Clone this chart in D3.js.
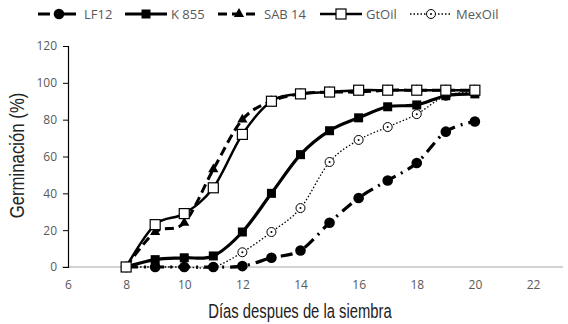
<!DOCTYPE html>
<html>
<head>
<meta charset="utf-8">
<script src="https://cdn.jsdelivr.net/npm/d3@7"></script>
<style>
  body { margin: 0; background: #fff; }
  svg { display: block; }
  .tick text { font-family: "Open Sans", "Liberation Sans", sans-serif; font-size: 12px; fill: #595959; }
</style>
</head>
<body>
<div id="chart"></div>
<script>
// data
const days = [8, 9, 10, 11, 12, 13, 14, 15, 16, 17, 18, 19, 20];
const lf12   = [0, 0, 0, 0, 0.5, 5, 9, 24, 37.5, 47, 56.5, 73.5, 79];
const k855   = [0, 4, 5, 6, 19, 40, 61, 74, 81, 87, 88, 93, 94];
const sab14  = [0, 19, 24, 53, 80, 90, 94, 95, 95, 96, 96, 96, 96];
const gtoil  = [0, 23, 29, 43, 72, 90, 94, 95, 96, 96, 96, 96, 96];
const mexoil = [0, 0, 0, 0, 8, 19, 32, 57, 69, 76, 83, 93, 95];
const xTicks = [6, 8, 10, 12, 14, 16, 18, 20, 22];
const yTicks = [0, 20, 40, 60, 80, 100, 120];

const W = 568, H = 324;
const margin = { left: 68, right: 35, top: 46, bottom: 57 };

const svg = d3.select("#chart").append("svg")
    .attr("width", W).attr("height", H);

const x = d3.scaleLinear().domain([6, 22]).range([margin.left, 533]);
const y = d3.scaleLinear().domain([0, 120]).range([H - margin.bottom, margin.top]);

// x axis (gray baseline, no ticks)
svg.append("line")
    .attr("x1", 62).attr("x2", 563)
    .attr("y1", y(0)).attr("y2", y(0))
    .attr("stroke", "#a6a6a6").attr("stroke-width", 1.2);

const xAxis = svg.append("g")
    .attr("transform", `translate(0,${y(0)})`)
    .call(d3.axisBottom(x).tickValues(xTicks).tickSize(0).tickPadding(13));
xAxis.select(".domain").remove();

// y axis
const yAxis = svg.append("g")
    .attr("transform", `translate(${margin.left},0)`)
    .call(d3.axisLeft(y).tickValues(yTicks).tickSize(5).tickPadding(6));
yAxis.select(".domain").attr("stroke", "#000").attr("stroke-width", 1.2);
yAxis.selectAll(".tick line").attr("stroke", "#000");

// axis titles (narrow font look via horizontal scaling)
svg.append("text")
    .attr("transform", "translate(300,318) scale(0.76,1)")
    .attr("text-anchor", "middle")
    .style("font-family", "'Liberation Sans', Arial, sans-serif")
    .style("font-size", "19.5px").attr("fill", "#222")
    .text("Días despues de la siembra");

svg.append("text")
    .attr("transform", `translate(24,${y(60) - 1}) rotate(-90) scale(0.86,1)`)
    .attr("text-anchor", "middle")
    .style("font-family", "'Liberation Sans', Arial, sans-serif")
    .style("font-size", "19.5px").attr("fill", "#222")
    .text("Germinación (%)");

const line = d3.line()
    .x((d, i) => x(days[i]))
    .y(d => y(d))
    .curve(d3.curveCatmullRom.alpha(0));

const series = [
    { name: "LF12", values: lf12, width: 3.2, dash: "12,6,2,6", marker: "circle" },
    { name: "K 855", values: k855, width: 3.2, dash: null, marker: "squareFilled" },
    { name: "SAB 14", values: sab14, width: 3, dash: "9,5", marker: "triangle" },
    { name: "GtOil", values: gtoil, width: 2.5, dash: null, marker: "squareOpen" },
    { name: "MexOil", values: mexoil, width: 1.3, dash: "1.5,2", marker: "circleOpen" }
];

function drawMarker(g, type, cx, cy) {
    if (type === "circle") {
        g.append("circle").attr("cx", cx).attr("cy", cy).attr("r", 5.3).attr("fill", "#000");
    } else if (type === "squareFilled") {
        g.append("rect").attr("x", cx - 4.5).attr("y", cy - 4.5).attr("width", 9).attr("height", 9).attr("fill", "#000");
    } else if (type === "triangle") {
        g.append("path").attr("d", d3.symbol(d3.symbolTriangle, 45)())
            .attr("transform", `translate(${cx},${cy})`).attr("fill", "#000");
    } else if (type === "squareOpen") {
        g.append("rect").attr("x", cx - 5).attr("y", cy - 5).attr("width", 10).attr("height", 10)
            .attr("fill", "#fff").attr("stroke", "#000").attr("stroke-width", 1.2);
    } else if (type === "circleOpen") {
        g.append("circle").attr("cx", cx).attr("cy", cy).attr("r", 4.5)
            .attr("fill", "#fff").attr("stroke", "#000").attr("stroke-width", 1);
        g.append("circle").attr("cx", cx).attr("cy", cy).attr("r", 1).attr("fill", "#000");
    }
}

// draw series in order (MexOil bottom ... GtOil top)
const drawOrder = [4, 0, 1, 2, 3];
drawOrder.forEach(k => {
    const s = series[k];
    const g = svg.append("g");
    g.append("path")
        .attr("d", line(s.values))
        .attr("fill", "none")
        .attr("stroke", "#000")
        .attr("stroke-width", s.width)
        .attr("stroke-dasharray", s.dash);
    s.values.forEach((v, i) => drawMarker(g, s.marker, x(days[i]), y(v)));
});

// legend
const legendX = [38, 125, 218, 320, 410];
const legend = svg.append("g").attr("transform", "translate(0,14)");
series.forEach((s, i) => {
    const g = legend.append("g").attr("transform", `translate(${legendX[i]},0)`);
    g.append("line").attr("x1", 0).attr("x2", 42).attr("y1", 0).attr("y2", 0)
        .attr("stroke", "#000").attr("stroke-width", s.width)
        .attr("stroke-dasharray", s.dash);
    drawMarker(g, s.marker, 21, 0);
    g.append("text").attr("x", 46).attr("y", 5)
        .style("font-family", "'Open Sans', 'Liberation Sans', sans-serif")
        .style("font-size", "13px").attr("fill", "#595959")
        .text(s.name);
});
</script>
</body>
</html>
